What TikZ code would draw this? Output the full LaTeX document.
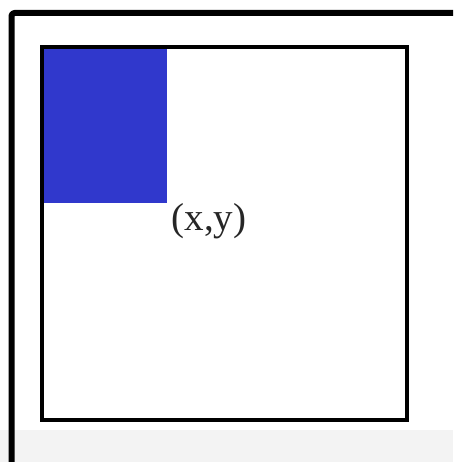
\documentclass[tikz,border=0pt]{standalone}
\usepackage{fontspec}
\setmainfont{Liberation Serif}
\definecolor{boxblue}{HTML}{3038CC}
\definecolor{stripgray}{HTML}{F3F3F3}
\begin{document}
\begin{tikzpicture}[x=1pt,y=-1pt,
  framestyle/.style={line width=6pt,line join=round,rounded corners=3pt},
  squarestyle/.style={draw=black,line width=4pt},
  bluestyle/.style={fill=boxblue},
  labelstyle/.style={font=\fontsize{39}{42}\selectfont,text=black!85,inner sep=0pt}]
\useasboundingbox (0,0) rectangle (453,462);
\fill[stripgray] (0,430) rectangle (453,462);
\draw[framestyle] (11.5,462) -- (11.5,13) -- (453,13);
\fill[bluestyle] (42,47) rectangle (167,203);
\draw[squarestyle] (42,47) rectangle (407,420);
\node[labelstyle] (lbl) at (209,221) {(x,y)};
\end{tikzpicture}
\end{document}
